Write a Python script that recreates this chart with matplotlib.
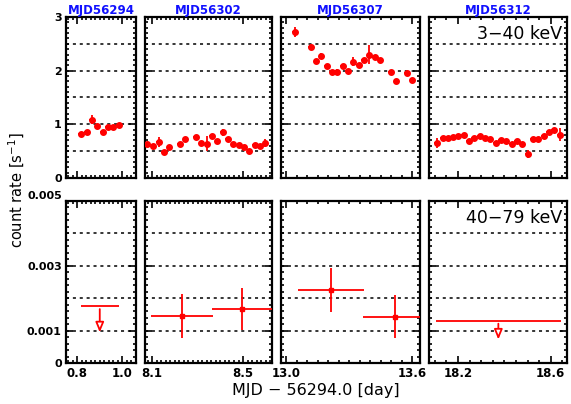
"""
NuSTAR light curves, 3-40 keV and 40-79 keV, four observations
"""
import matplotlib
matplotlib.use('Agg')
import matplotlib.pyplot as plt
from matplotlib.ticker import FixedLocator, MultipleLocator

plt.rcParams['font.family'] = ['DejaVu Sans']

# ======================== data ========================
obs_names = ['MJD56294', 'MJD56302', 'MJD56307', 'MJD56312']

# 3-40 keV, per observation
soft_t1 = [0.816, 0.841, 0.864, 0.888, 0.912, 0.936, 0.959, 0.983]
soft_r1 = [0.815, 0.85, 1.09, 0.97, 0.86, 0.955, 0.95, 0.98]
soft_e1 = [0.03, 0.03, 0.09, 0.04, 0.03, 0.04, 0.03, 0.04]

soft_t2 = [8.079, 8.106, 8.131, 8.153, 8.176, 8.223, 8.246, 8.293, 8.317, 8.340,
           8.364, 8.387, 8.411, 8.434, 8.457, 8.481, 8.504, 8.528, 8.551, 8.575, 8.598]
soft_r2 = [0.63, 0.60, 0.67, 0.49, 0.57, 0.64, 0.72, 0.76, 0.65, 0.64,
           0.78, 0.69, 0.85, 0.73, 0.63, 0.62, 0.57, 0.51, 0.62, 0.59, 0.65]
soft_e2 = [0.04, 0.03, 0.10, 0.03, 0.03, 0.03, 0.03, 0.03, 0.04, 0.14,
           0.03, 0.03, 0.06, 0.03, 0.03, 0.03, 0.03, 0.03, 0.03, 0.03, 0.07]

soft_t3 = [13.041, 13.118, 13.143, 13.168, 13.194, 13.219, 13.244, 13.270, 13.295, 13.320,
           13.346, 13.371, 13.397, 13.422, 13.448, 13.499, 13.524, 13.575, 13.600]
soft_r3 = [2.72, 2.45, 2.18, 2.27, 2.09, 1.98, 1.98, 2.09, 1.99, 2.17,
           2.10, 2.20, 2.30, 2.26, 2.20, 1.98, 1.81, 1.95, 1.83]
soft_e3 = [0.10, 0.04, 0.03, 0.05, 0.03, 0.03, 0.06, 0.03, 0.03, 0.08,
           0.03, 0.03, 0.18, 0.03, 0.03, 0.03, 0.03, 0.03, 0.03]

soft_t4 = [18.108, 18.134, 18.156, 18.178, 18.201, 18.225, 18.247, 18.270, 18.294, 18.316,
           18.339, 18.362, 18.385, 18.408, 18.431, 18.454, 18.477, 18.500, 18.523, 18.546,
           18.569, 18.592, 18.615, 18.638]
soft_r4 = [0.648, 0.74, 0.753, 0.76, 0.784, 0.796, 0.69, 0.747, 0.778, 0.74,
           0.722, 0.654, 0.71, 0.698, 0.63, 0.698, 0.642, 0.45, 0.722, 0.728,
           0.778, 0.858, 0.90, 0.81]
soft_e4 = [0.09, 0.03, 0.03, 0.04, 0.03, 0.03, 0.03, 0.03, 0.03, 0.03,
           0.03, 0.03, 0.03, 0.03, 0.03, 0.03, 0.03, 0.07, 0.03, 0.03,
           0.05, 0.03, 0.03, 0.12]

# 40-79 keV detections (center, half width, rate, lower / upper error)
hard_t2 = [8.232, 8.496]
hard_w2 = [0.137, 0.131]
hard_r2 = [0.00145, 0.00167]
hard_lo2 = [0.00069, 0.00066]
hard_hi2 = [0.00068, 0.00064]

hard_t3 = [13.213, 13.519]
hard_w3 = [0.156, 0.151]
hard_r3 = [0.00225, 0.00143]
hard_lo3 = [0.00068, 0.00065]
hard_hi3 = [0.00067, 0.00067]

# 40-79 keV upper limits (center, half width, limit, arrow tip)
ul_t = {0: 0.899, 3: 18.374}
ul_w = {0: 0.085, 3: 0.269}
ul_r = {0: 0.00175, 3: 0.00130}
ul_tip = {0: 0.00086, 3: 0.00064}

# axis ranges and tick labels
xlims = [(0.749, 1.060), (8.069, 8.627), (12.976, 13.638), (18.075, 18.670)]
xticks = [[0.8, 1.0], [8.1, 8.5], [13.0, 13.6], [18.2, 18.6]]
xticklabels = [['0.8', '1.0'], ['8.1', '8.5'], ['13.0', '13.6'], ['18.2', '18.6']]
xminor = [0.02, 0.02, 0.05, 0.05]

soft_grid = [0.5, 1.0, 1.5, 2.0, 2.5]
hard_grid = [0.001, 0.002, 0.003, 0.004]
soft_yticks = [0, 1, 2, 3]
hard_yticks = [0, 0.001, 0.003, 0.005]
hard_yticklabels = ['0', '0.001', '0.003', '0.005']

soft_t = [soft_t1, soft_t2, soft_t3, soft_t4]
soft_r = [soft_r1, soft_r2, soft_r3, soft_r4]
soft_e = [soft_e1, soft_e2, soft_e3, soft_e4]
hard = {1: (hard_t2, hard_w2, hard_r2, hard_lo2, hard_hi2),
        2: (hard_t3, hard_w3, hard_r3, hard_lo3, hard_hi3)}
# ======================================================

W, H = 571, 404
fig = plt.figure(figsize=(W / 100, H / 100), dpi=100)

cols = [(66, 136), (145, 272), (281, 420), (429, 567)]
rows = [(17, 178), (201, 363)]

RED = '#ff0000'
tick_font = dict(fontsize=8, fontweight='bold')


def style_axes(ax, i, top):
    for s in ax.spines.values():
        s.set_linewidth(1.6)
    ax.set_xlim(*xlims[i])
    ax.xaxis.set_major_locator(FixedLocator(xticks[i]))
    ax.xaxis.set_minor_locator(MultipleLocator(xminor[i]))
    ax.tick_params(which='both', direction='in', top=True, right=True, width=1.2)
    ax.tick_params(which='major', length=5)
    ax.tick_params(which='minor', length=2.5)
    if top:
        ax.set_ylim(0, 3)
        ax.yaxis.set_major_locator(FixedLocator(soft_yticks))
        ax.yaxis.set_minor_locator(MultipleLocator(0.1))
        ax.set_xticklabels([])
        for g in soft_grid:
            ax.axhline(g, color='black', ls=(0, (2, 2.5)), lw=1.1, zorder=1)
    else:
        ax.set_ylim(0, 0.005)
        ax.yaxis.set_major_locator(FixedLocator(hard_yticks))
        ax.yaxis.set_minor_locator(MultipleLocator(0.0002))
        ax.set_xticklabels(xticklabels[i], fontsize=8.5, fontweight='bold')
        for g in hard_grid:
            ax.axhline(g, color='black', ls=(0, (2, 2.5)), lw=1.1, zorder=1)
    if i == 0:
        if top:
            ax.set_yticklabels([str(v) for v in soft_yticks], **tick_font)
        else:
            labs = ax.set_yticklabels(hard_yticklabels, **tick_font)
            labs[-1].set_va('bottom')
    else:
        ax.set_yticklabels([])
    ax.tick_params(axis='both', pad=3)


for i, (x0, x1) in enumerate(cols):
    for r, (y0, y1) in enumerate(rows):
        ax = fig.add_axes([x0 / W, 1 - y1 / H, (x1 - x0) / W, (y1 - y0) / H])
        top = (r == 0)
        style_axes(ax, i, top)
        if top:
            ax.errorbar(soft_t[i], soft_r[i], yerr=soft_e[i], xerr=0.012,
                        fmt='o', color=RED, ms=4, elinewidth=1.3, capsize=0, zorder=3)
            ax.set_title(obs_names[i], color='#1010ff', fontsize=8.5,
                         fontweight='bold', pad=2)
            if i == 3:
                ax.text(0.965, 0.95, '3\u221240 keV', transform=ax.transAxes,
                        ha='right', va='top', fontsize=12.5)
        else:
            if i in hard:
                t, w, rr, lo, hi = hard[i]
                ax.errorbar(t, rr, xerr=w, yerr=[lo, hi], fmt='s', color=RED,
                            ms=3, elinewidth=1.3, capsize=0, zorder=3)
            if i in ul_t:
                ax.errorbar([ul_t[i]], [ul_r[i]], xerr=[ul_w[i]], fmt='none',
                            ecolor=RED, elinewidth=1.3, capsize=0, zorder=3)
                ax.annotate('', xy=(ul_t[i], ul_tip[i]), xytext=(ul_t[i], ul_r[i]),
                            arrowprops=dict(arrowstyle='-|>,head_length=0.6,head_width=0.25',
                                            facecolor='white', edgecolor=RED, lw=1.3),
                            zorder=3)
            if i == 3:
                ax.text(0.965, 0.95, '40\u221279 keV', transform=ax.transAxes,
                        ha='right', va='top', fontsize=12.5)

fig.text(17 / W, 1 - 190 / H, 'count rate [s$^{-1}$]', rotation=90,
         ha='center', va='center', fontsize=10.5)
fig.text(316 / W, 1 - 391 / H, 'MJD \u2212 56294.0 [day]', ha='center',
         va='center', fontsize=11.5)

fig.savefig('out.png', dpi=100)
